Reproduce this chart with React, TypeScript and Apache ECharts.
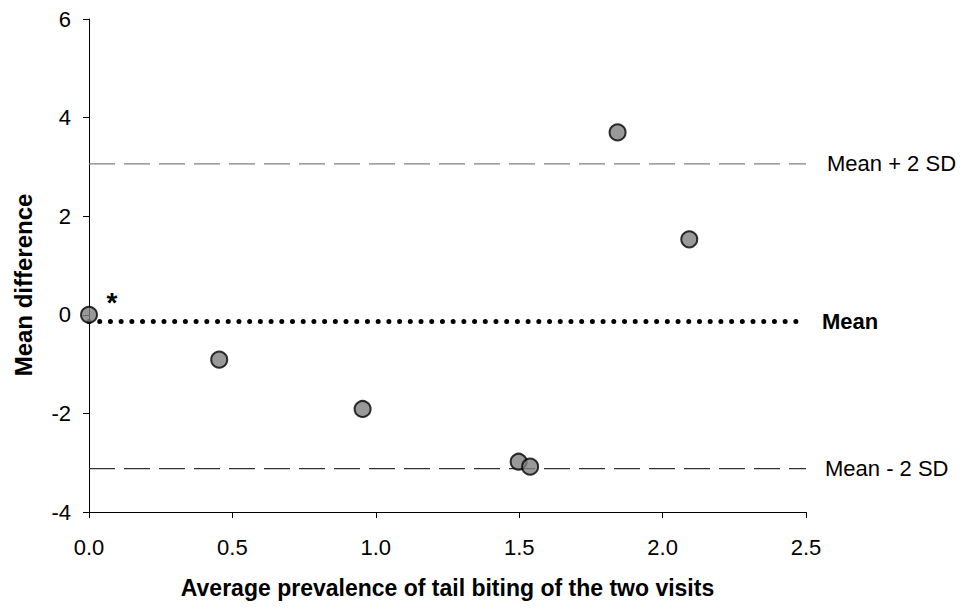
import React, { useEffect, useRef } from "react";
import * as echarts from "echarts";

const xValues = [0, 0.454, 0.954, 1.498, 1.538, 1.843, 2.093];
const yValues = [0, -0.91, -1.91, -2.98, -3.08, 3.7, 1.53];
const meanValue = -0.135;
const upperLimit = 3.06;
const lowerLimit = -3.12;
const xTicks = [0, 0.5, 1.0, 1.5, 2.0, 2.5];
const lineLabels = ["Mean + 2 SD", "Mean", "Mean - 2 SD"];
const yTitle = "Mean difference";
const xTitle = "Average prevalence of tail biting of the two visits";

export default function App() {
  const ref = useRef<HTMLDivElement>(null);
  useEffect(() => {
    if (!ref.current) return;
    const chart = echarts.init(ref.current, undefined, { renderer: "svg" });
    const font = "Liberation Sans, Arial, sans-serif";
    const hLine = (name: string, v: number, style: any, labelStyle: any) => ({
      type: "line",
      name,
      data: [[xTicks[0], v], [xTicks[xTicks.length - 1], v]],
      symbol: "none",
      lineStyle: style,
      silent: true,
      z: 1,
      endLabel: {
        show: true,
        formatter: name,
        fontFamily: font,
        color: "#000",
        fontSize: 22,
        ...labelStyle,
      },
    });
    chart.setOption({
      animation: false,
      grid: { left: 81, top: 11, right: 152, bottom: 83, containLabel: false },
      xAxis: {
        type: "value",
        min: 0,
        max: 2.5,
        interval: 0.5,
        name: xTitle,
        nameLocation: "middle",
        nameGap: 64,
        nameTextStyle: { fontFamily: font, fontWeight: "bold", fontSize: 23, color: "#000" },
        axisLine: { show: true, onZero: false, lineStyle: { color: "#000", width: 1 } },
        axisTick: { show: true, length: 6, lineStyle: { color: "#000" } },
        axisLabel: {
          fontFamily: font,
          fontSize: 22,
          color: "#000",
          margin: 24,
          formatter: (v: number) => v.toFixed(1),
        },
        splitLine: { show: false },
      },
      yAxis: {
        type: "value",
        min: -4,
        max: 6,
        interval: 2,
        axisLine: { show: true, onZero: false, lineStyle: { color: "#000", width: 1 } },
        axisTick: { show: true, length: 6, lineStyle: { color: "#000" } },
        axisLabel: { fontFamily: font, fontSize: 22, color: "#000", margin: 18 },
        splitLine: { show: false },
      },
      series: [
        hLine(lineLabels[0], upperLimit, { color: "#808080", width: 1.3, type: [26, 9] }, { distance: 21 }),
        hLine(lineLabels[2], lowerLimit, { color: "#333", width: 1.3, type: [26, 9] }, { distance: 19 }),
        hLine(lineLabels[1], meanValue, { color: "#000", width: 5, type: [0.01, 10.7], cap: "round" }, { fontWeight: "bold", distance: 16 }),
        {
          type: "scatter",
          data: xValues.map((x, i) => [x, yValues[i]]),
          symbol: "circle",
          symbolSize: 16,
          clip: false,
          z: 5,
          itemStyle: { color: "#808080", borderColor: "#000", borderWidth: 2 },
        },
      ],
      graphic: [
        {
          type: "text",
          x: 15,
          y: 277,
          rotation: Math.PI / 2,
          style: {
            text: yTitle,
            fontSize: 24,
            fontWeight: "bold",
            fontFamily: font,
            fill: "#000",
            align: "center",
            verticalAlign: "middle",
          },
        },
        {
          type: "text",
          x: 104,
          y: 294,
          style: {
            text: "*",
            fontSize: 28,
            fontWeight: "bold",
            fontFamily: font,
            fill: "#000",
            align: "center",
            verticalAlign: "middle",
          },
        },
      ],
    });
    return () => chart.dispose();
  }, []);
  return <div ref={ref} style={{ width: 950, height: 596 }} />;
}
